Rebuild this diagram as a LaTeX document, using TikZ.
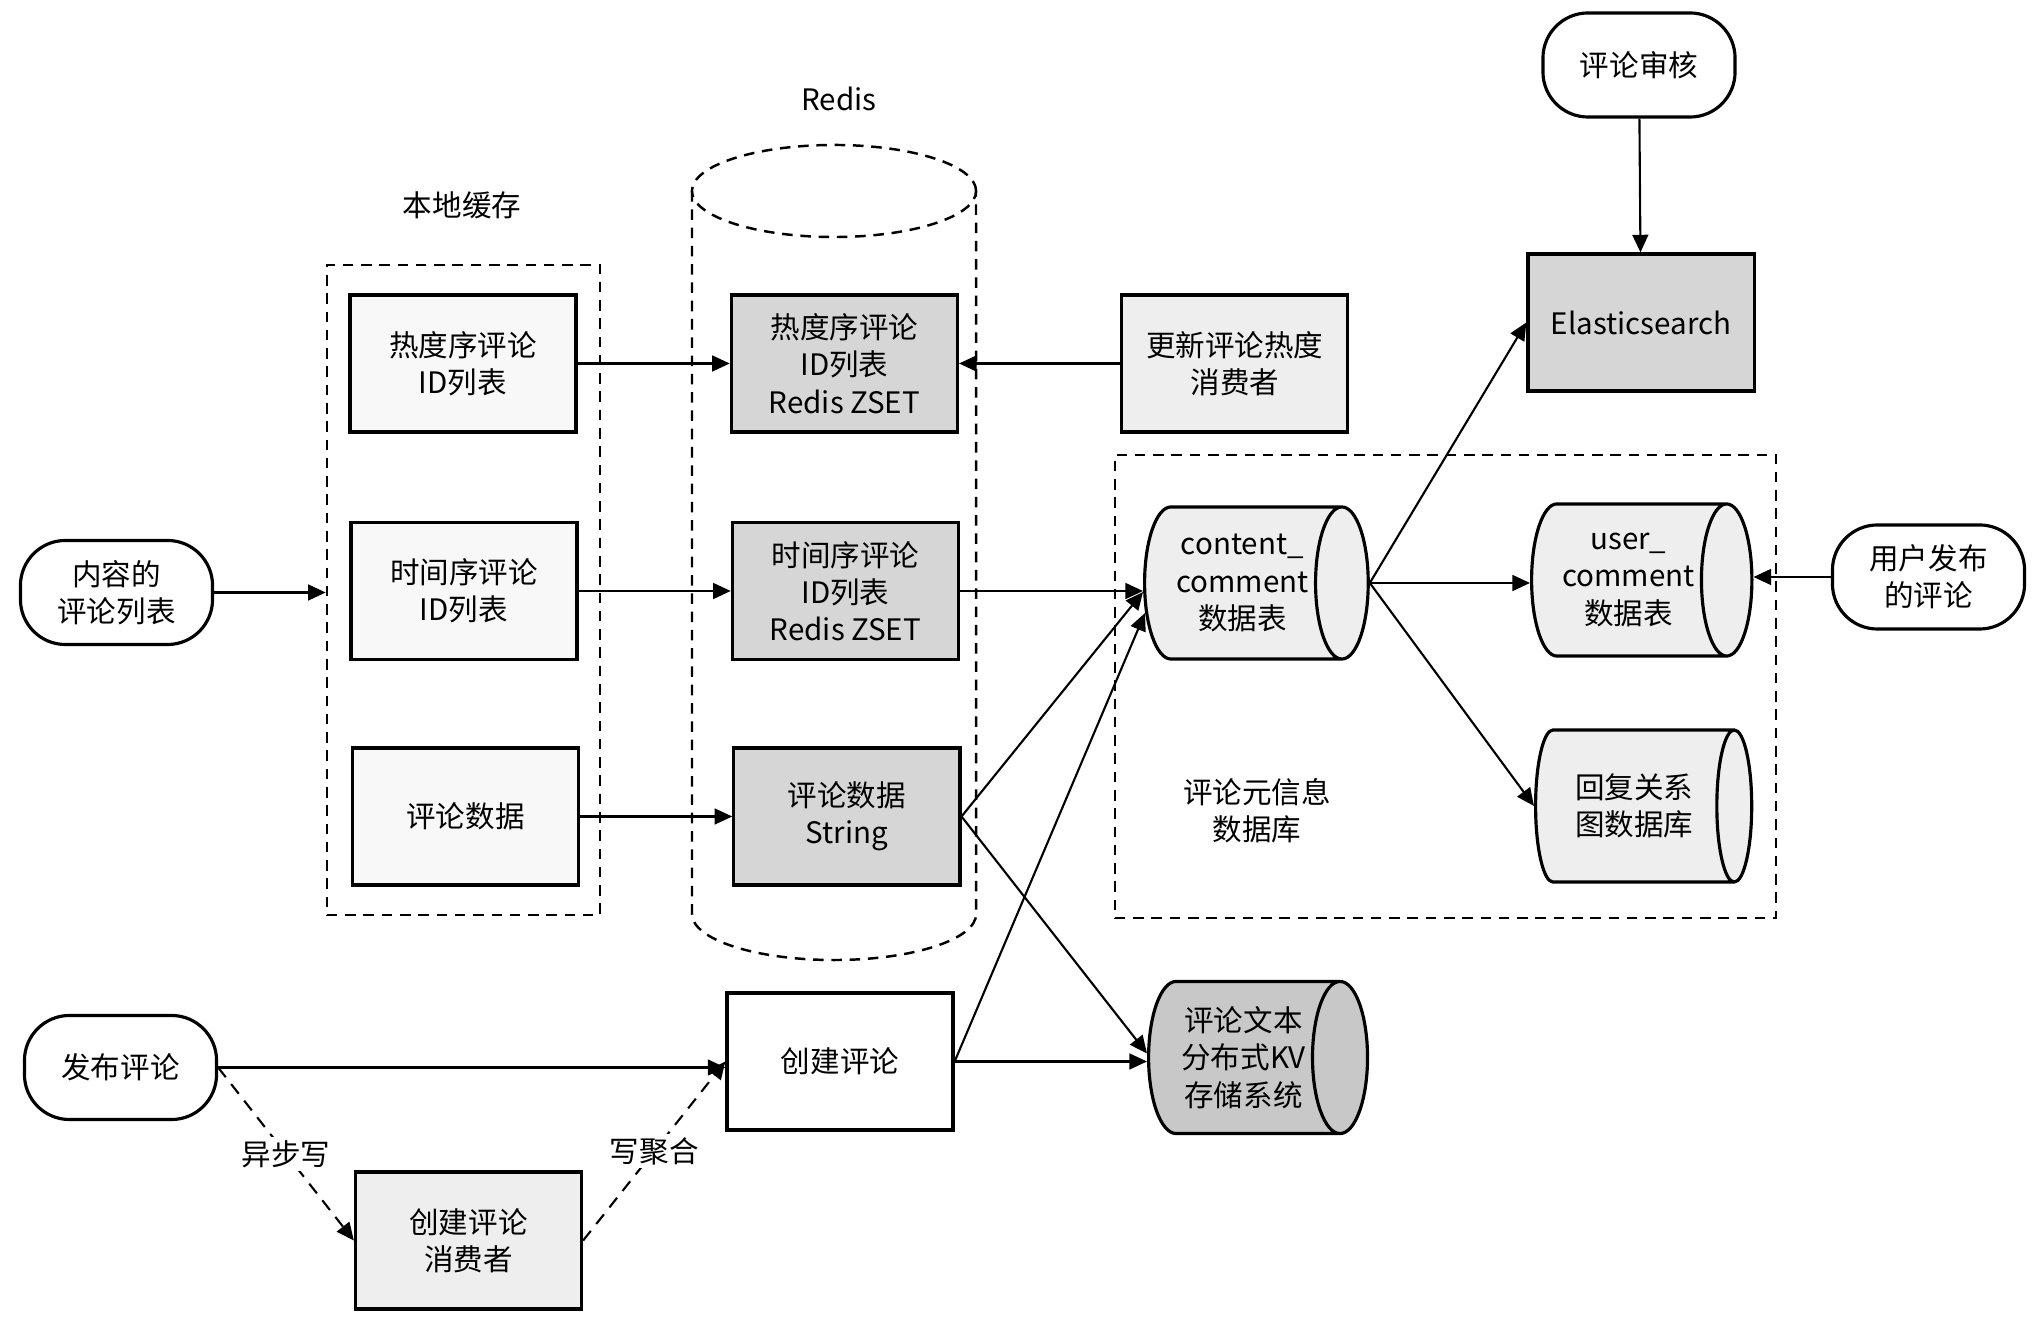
\documentclass[tikz,border=0pt]{standalone}
\usepackage{fontspec}
\setmainfont{Noto Sans CJK SC}
\usepackage{tikz}
\usetikzlibrary{shapes.geometric, arrows.meta, positioning}
\definecolor{redisgray}{RGB}{214, 214, 214}
\definecolor{kvgray}{RGB}{200, 200, 200}
\definecolor{lightbg}{RGB}{238, 238, 238}
\definecolor{paperbg}{RGB}{248, 248, 248}
\tikzset{
  boxnode/.style={draw, line width=0.9pt, minimum width=2.26cm, minimum height=1.37cm, align=center, inner sep=2pt},
  cachenode/.style={boxnode, fill=paperbg},
  redisnode/.style={boxnode, fill=redisgray},
  consnode/.style={boxnode, fill=lightbg},
  termnode/.style={draw, line width=0.9pt, rounded corners=0.45cm, minimum width=1.92cm, minimum height=1.04cm, align=center, fill=white},
  dbnode/.style={cylinder, draw, line width=0.9pt, minimum width=1.52cm, minimum height=2.16cm, aspect=0.54, align=center, fill=lightbg, inner xsep=1.5pt, inner ysep=0pt, anchor=west},
  groupbox/.style={draw, dash pattern=on 3pt off 2.2pt, line width=0.7pt},
  carrow/.style={-{Triangle[length=5pt, width=4.5pt]}, line width=0.6pt},
  dcarrow/.style={carrow, dash pattern=on 3.5pt off 2.5pt},
}

\begin{document}
\begin{tikzpicture}[x=0.01cm, y=0.01cm, node distance=1.52cm and 1.52cm, every node/.style={font=\fontsize{8.4}{10.6}\selectfont}]
  \useasboundingbox (0,0) rectangle (2033,1318);
  \node[groupbox, minimum width=2.73cm, minimum height=6.5cm] (lcache) at (463.5,728) {};
  \node[groupbox, minimum width=6.61cm, minimum height=4.63cm] (meta) at (1445.5,631.5) {};
  \draw[groupbox] (834,1127) ellipse [x radius=1.42cm, y radius=0.46cm];
  \draw[groupbox] (692,1127) -- (692,404) arc [start angle=180, end angle=360, x radius=1.42cm, y radius=0.46cm] -- (976,1127);
  \node (redislbl) at (839,1219) {Redis};
  \node (lcachelbl) at (462,1113) {本地缓存};
  \node[align=center] (metalbl) at (1257,507) {评论元信息\\数据库};

  \node[termnode] (list) at (116.5,725.5) {内容的\\评论列表};
  \node[cachenode] (lhot) at (463,954.5) {热度序评论\\ID列表};
  \node[cachenode] (ltime) at (464,727) {时间序评论\\ID列表};
  \node[cachenode] (ldata) at (465.5,501.5) {评论数据};
  \node[redisnode] (rhot) [right=of lhot] {热度序评论\\ID列表\\Redis ZSET};
  \node[redisnode] (rtime) [right=of ltime] {时间序评论\\ID列表\\Redis ZSET};
  \node[redisnode] (rdata) [right=of ldata] {评论数据\\String};
  \node[consnode] (hotcons) [right=1.61cm of rhot] {更新评论热度\\消费者};
  \node[termnode] (audit) at (1639,1253) {评论审核};
  \node[redisnode] (es) at (1641,995.5) {Elasticsearch};
  \node[dbnode] (content) at (1143,735) {content\_\\comment\\数据表};
  \node[dbnode] (user) at (1530,738) {user\_\\comment\\数据表};
  \node[dbnode] (reply) at (1534,512) {回复关系\\图数据库};
  \node[termnode] (upost) at (1928.5,741) {用户发布\\的评论};
  \node[dbnode, fill=kvgray] (kv) at (1147,260.5) {评论文本\\分布式KV\\存储系统};
  \node[termnode] (post) at (120.5,250.5) {发布评论};
  \node[boxnode, fill=white] (create) at (840,256.5) {创建评论};
  \node[consnode] (cons) at (468.5,77.5) {创建评论\\消费者};

  \draw[carrow] (list.east) -- (list.east -| lcache.west);
  \draw[carrow] (lhot) -- (rhot);
  \draw[carrow] (ltime) -- (rtime);
  \draw[carrow] (ldata) -- (rdata);
  \draw[carrow] (hotcons) -- (hotcons -| rhot.east);
  \draw[carrow] (rtime.east) -- (rtime.east -| content.west);
  \draw[carrow] (rdata.east) -- ([yshift=-0.09cm]content.west);
  \draw[carrow] (rdata.east) -- ([yshift=0.04cm]kv.west);
  \draw[carrow] (create.east) -- ([xshift=0.02cm, yshift=-0.3cm]content.west);
  \draw[carrow] (create.east) -- (create.east -| kv.west);
  \draw[carrow] (content.east) -- (es.west);
  \draw[carrow] (content.east) -- (content.east -| user.west);
  \draw[carrow] (content.east) -- (reply.west);
  \draw[carrow] (audit) -- (es);
  \draw[carrow] (upost) -- (upost -| user.east);
  \draw[carrow] (post.east) -- (post.east -| create.west);
  \draw[dcarrow] (post.east) -- (cons.west) node[midway, fill=white, inner sep=1pt] {异步写};
  \draw[dcarrow] (cons.east) -- (create.west) node[midway, fill=white, inner sep=1pt] {写聚合};
\end{tikzpicture}
\end{document}
